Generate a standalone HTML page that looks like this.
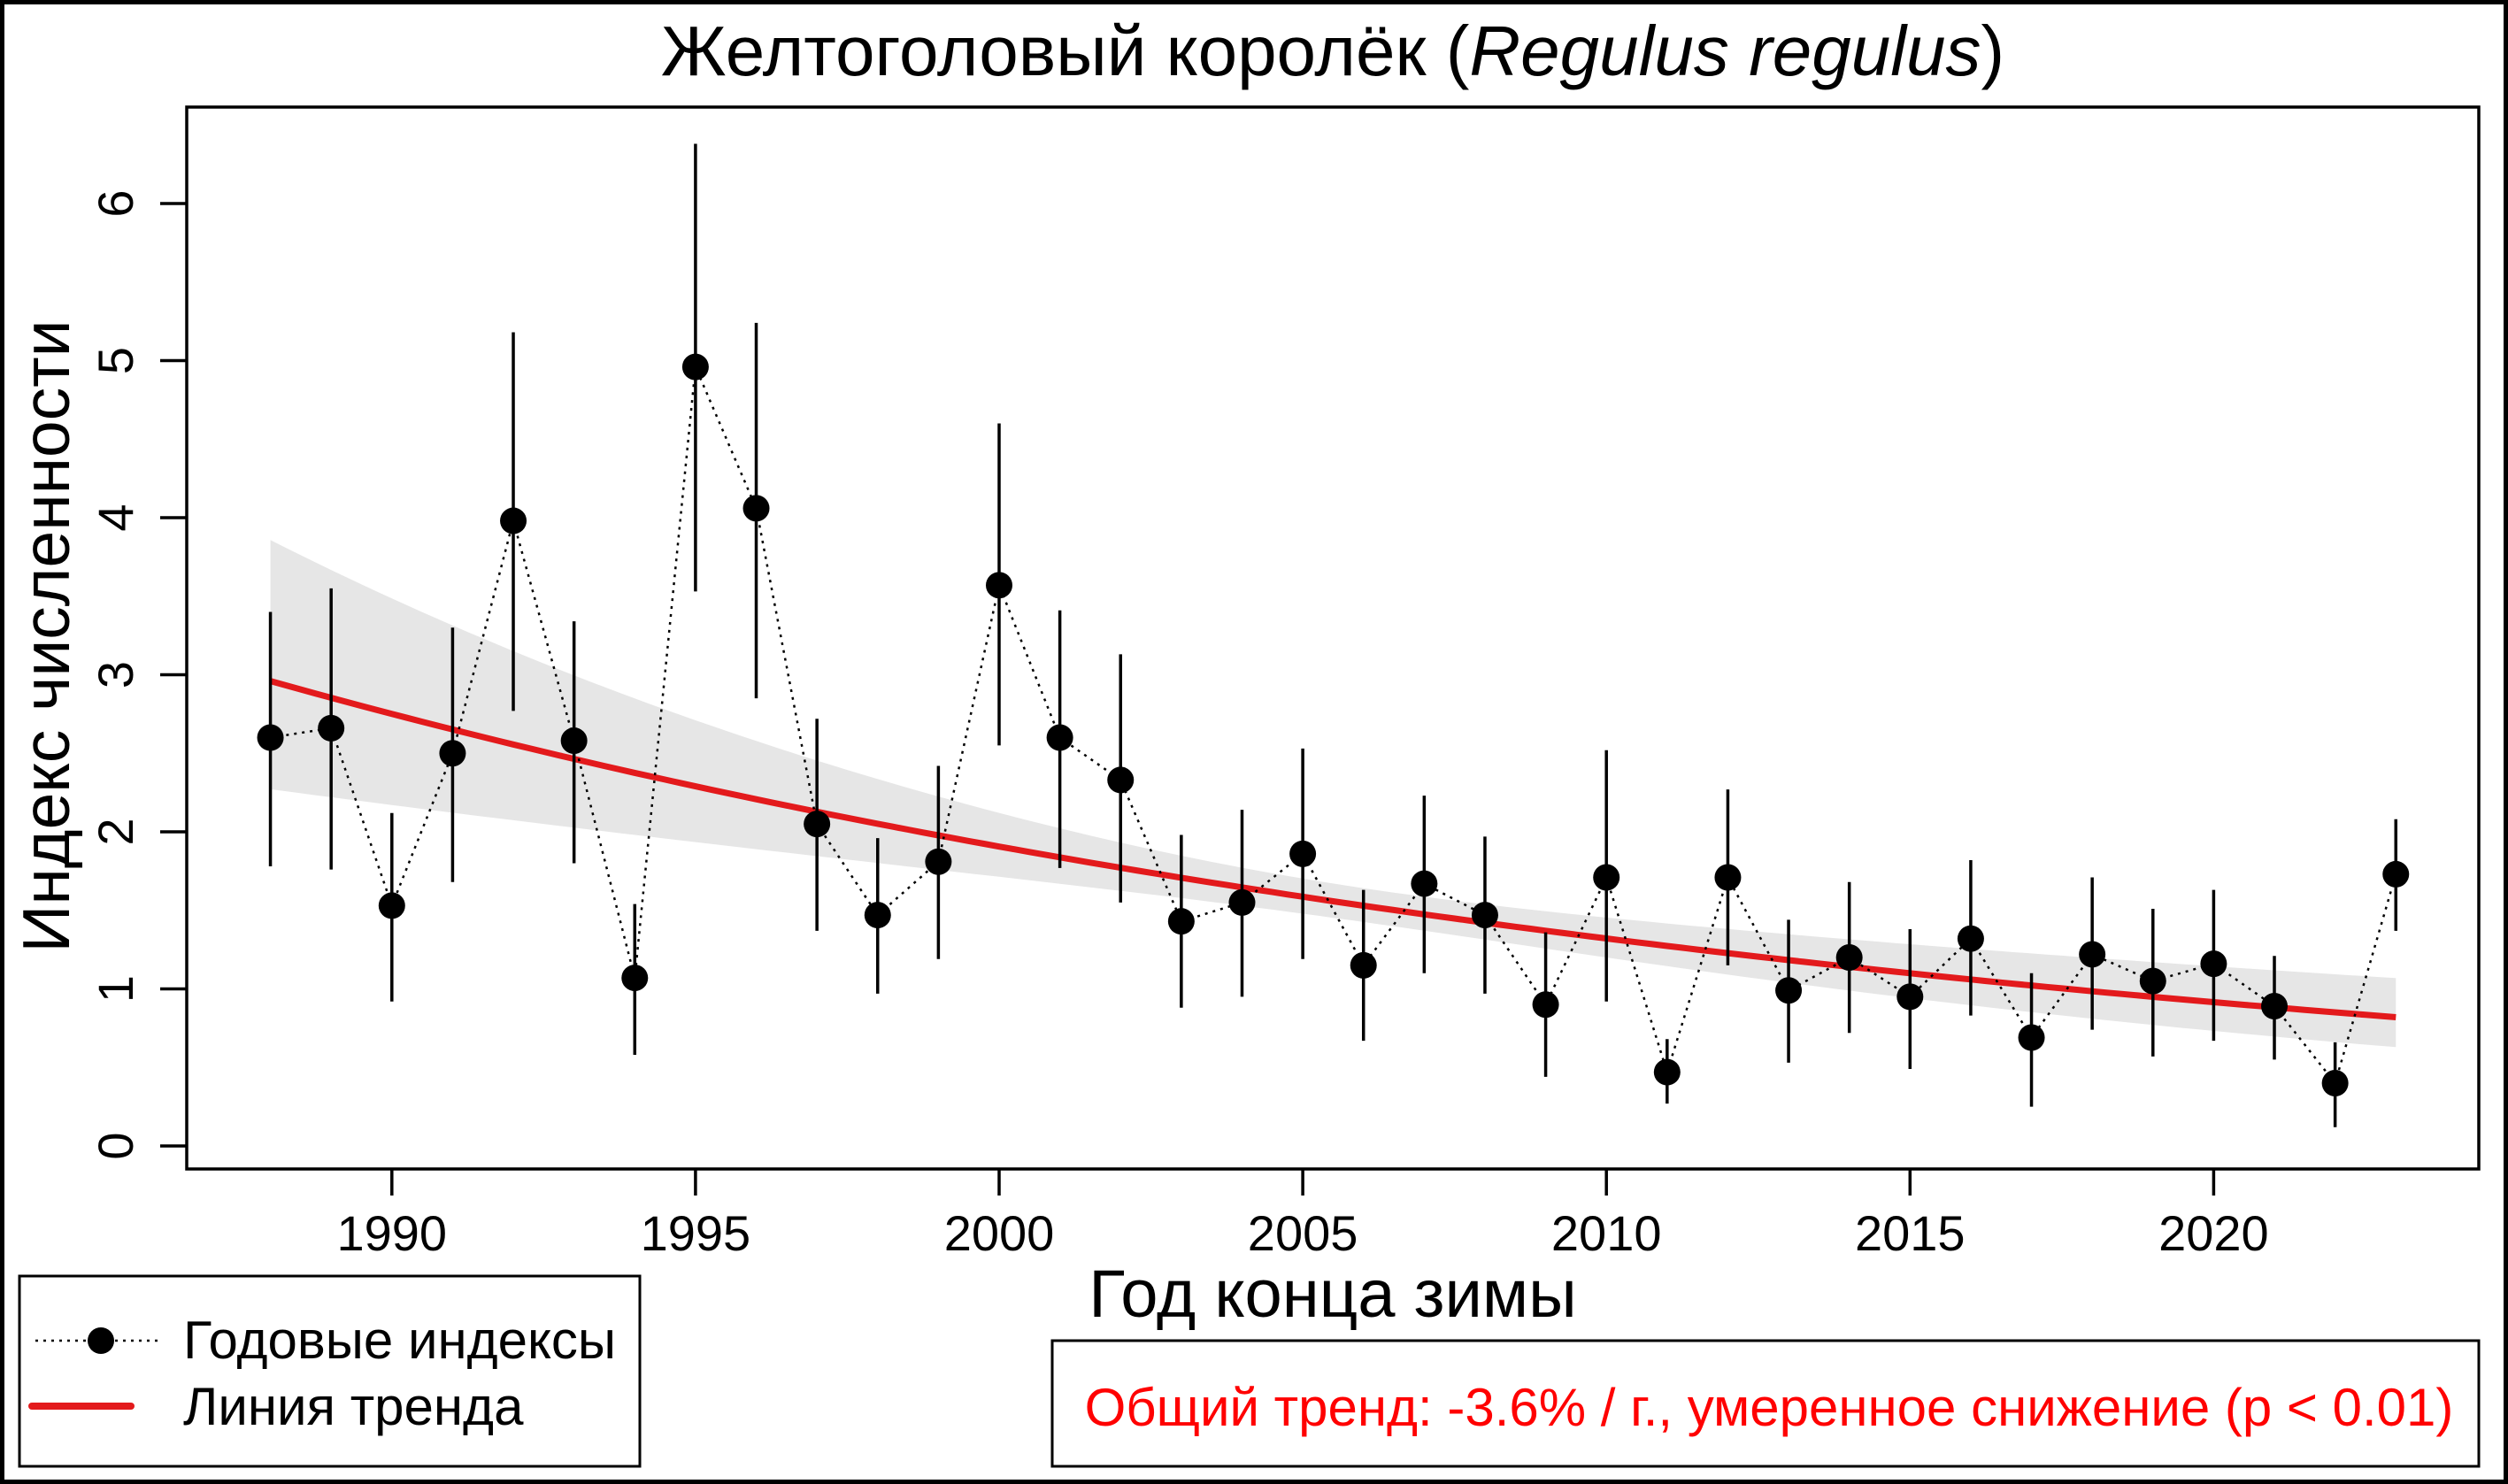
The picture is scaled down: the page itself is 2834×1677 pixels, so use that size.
<!DOCTYPE html>
<html><head><meta charset="utf-8"><style>
html,body{margin:0;padding:0;background:#fff}
svg{display:block}
text{font-family:"Liberation Sans",Arial,sans-serif}
</style></head><body>
<svg id="s" width="2834" height="1677" xmlns="http://www.w3.org/2000/svg"></svg>
<script>
const W=2834,H=1677;
const X=y=>442.8+(y-1990)*68.62, Y=v=>1295-v*177.5;
const d=[[1988,2.6,1.78,3.4],[1989,2.66,1.76,3.55],[1990,1.53,0.92,2.12],[1991,2.5,1.68,3.3],[1992,3.98,2.77,5.18],[1993,2.58,1.8,3.34],[1994,1.07,0.58,1.54],[1995,4.96,3.53,6.38],[1996,4.06,2.85,5.24],[1997,2.05,1.37,2.72],[1998,1.47,0.97,1.96],[1999,1.81,1.19,2.42],[2000,3.57,2.55,4.6],[2001,2.6,1.77,3.41],[2002,2.33,1.55,3.13],[2003,1.43,0.88,1.98],[2004,1.55,0.95,2.14],[2005,1.86,1.19,2.53],[2006,1.15,0.67,1.63],[2007,1.67,1.1,2.23],[2008,1.47,0.97,1.97],[2009,0.9,0.44,1.36],[2010,1.71,0.92,2.52],[2011,0.47,0.27,0.68],[2012,1.71,1.15,2.27],[2013,0.99,0.53,1.44],[2014,1.2,0.72,1.68],[2015,0.95,0.49,1.38],[2016,1.32,0.83,1.82],[2017,0.69,0.25,1.1],[2018,1.22,0.74,1.71],[2019,1.05,0.57,1.51],[2020,1.16,0.67,1.63],[2021,0.89,0.55,1.21],[2022,0.4,0.12,0.66],[2023,1.73,1.37,2.08]];
let s='';
s+=`<rect x="2.5" y="2.5" width="${W-5}" height="${H-5}" fill="none" stroke="#000" stroke-width="5"/>`;
const tr=t=>2.96*Math.pow(0.82/2.96,(t-1988)/35);
const w=t=>Math.sqrt(0.07*0.07+Math.pow(0.0146*(t-2005.5),2));
let up=[],lo=[],mid=[];
for(let t=1988;t<=2023.001;t+=0.25){const m=tr(t),e=w(t);up.push(`${X(t).toFixed(1)},${Y(m*Math.exp(e)).toFixed(1)}`);lo.unshift(`${X(t).toFixed(1)},${Y(m*Math.exp(-e)).toFixed(1)}`);mid.push(`${X(t).toFixed(1)},${Y(m).toFixed(1)}`);}
s+=`<polygon points="${up.concat(lo).join(' ')}" fill="#e6e6e6"/>`;
s+=`<polyline points="${mid.join(' ')}" fill="none" stroke="#e31a1c" stroke-width="7"/>`;
s+=`<polyline points="${d.map(p=>X(p[0]).toFixed(1)+','+Y(p[1]).toFixed(1)).join(' ')}" fill="none" stroke="#000" stroke-width="2.5" stroke-dasharray="3,6"/>`;
for(const p of d){s+=`<line x1="${X(p[0])}" x2="${X(p[0])}" y1="${Y(p[2])}" y2="${Y(p[3])}" stroke="#000" stroke-width="3.5"/>`;s+=`<circle cx="${X(p[0])}" cy="${Y(p[1])}" r="15" fill="#000"/>`;}
s+=`<rect x="211" y="121" width="2590" height="1200" fill="none" stroke="#000" stroke-width="3.5"/>`;
for(let yr=1990;yr<=2020;yr+=5){const x=X(yr);s+=`<line x1="${x}" x2="${x}" y1="1321" y2="1351" stroke="#000" stroke-width="3.5"/><text x="${x}" y="1413" font-size="56" text-anchor="middle">${yr}</text>`;}
for(let v=0;v<=6;v++){const y=Y(v);s+=`<line x1="181" x2="211" y1="${y}" y2="${y}" stroke="#000" stroke-width="3.5"/><text transform="translate(150,${y}) rotate(-90)" font-size="56" text-anchor="middle">${v}</text>`;}
s+=`<text x="1506" y="85" font-size="80" text-anchor="middle">Желтоголовый королёк (<tspan font-style="italic">Regulus regulus</tspan>)</text>`;
s+=`<text x="1506" y="1488" font-size="76" text-anchor="middle">Год конца зимы</text>`;
s+=`<text transform="translate(78,719) rotate(-90)" font-size="75" text-anchor="middle">Индекс численности</text>`;
s+=`<rect x="22" y="1442" width="701" height="215" fill="none" stroke="#000" stroke-width="3"/>`;
s+=`<line x1="40" x2="181" y1="1515" y2="1515" stroke="#000" stroke-width="2.5" stroke-dasharray="3,6"/><circle cx="114" cy="1515" r="15" fill="#000"/>`;
s+=`<line x1="36" x2="148" y1="1589" y2="1589" stroke="#e31a1c" stroke-width="8" stroke-linecap="round"/>`;
s+=`<text x="207" y="1535" font-size="60">Годовые индексы</text><text x="207" y="1610" font-size="60">Линия тренда</text>`;
s+=`<rect x="1189" y="1515" width="1612" height="142" fill="none" stroke="#000" stroke-width="3"/>`;
s+=`<text x="1999" y="1611" font-size="60" text-anchor="middle" fill="#ff0000">Общий тренд: -3.6% / г., умеренное снижение (p &lt; 0.01)</text>`;
document.getElementById('s').innerHTML=s;
</script>
</body></html>
